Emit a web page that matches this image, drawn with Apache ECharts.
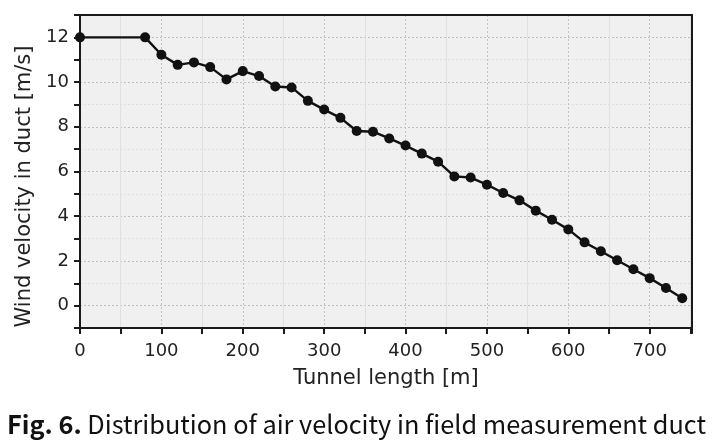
<!DOCTYPE html>
<html><head><meta charset="utf-8">
<script src="https://cdn.jsdelivr.net/npm/echarts@6/dist/echarts.min.js"></script>
<style>html,body{margin:0;padding:0;background:#fff}#c{width:713px;height:448px}</style>
</head><body><div id="c"></div>
<script>
const tunnelLength = [0,80,100,120,140,160,180,200,220,240,260,280,300,320,340,360,380,400,420,440,460,480,500,520,540,560,580,600,620,640,660,680,700,720,740];
const windVelocity = [12.0,12.0,11.22,10.77,10.88,10.67,10.12,10.49,10.27,9.8,9.76,9.16,8.77,8.4,7.81,7.78,7.48,7.16,6.8,6.44,5.78,5.73,5.41,5.04,4.71,4.25,3.84,3.41,2.83,2.43,2.03,1.63,1.23,0.79,0.33];
const yTickLabels = [0,2,4,6,8,10,12];
const xAxisName = 'Tunnel length [m]';
const yAxisName = 'Wind velocity in duct [m/s]';
const captionBold = 'Fig. 6.';
const captionText = ' Distribution of air velocity in field measurement duct';

const chart = echarts.init(document.getElementById('c'));
const fontTick = 'DejaVu Sans, sans-serif';
const frameColor = '#1a1a1a';
chart.setOption({
  animation: false,
  backgroundColor: '#fff',
  title: {
    text: '{b|' + captionBold + '}{r|' + captionText + '}',
    left: 'center', top: 407,
    textStyle: { fontWeight: 'normal', rich: {
      b: { fontFamily: 'Noto Sans CJK KR', fontWeight: 'bold', fontSize: 25.3, color: '#111' },
      r: { fontFamily: 'Noto Sans CJK KR', fontWeight: 'normal', fontSize: 25.3, color: '#111' }
    }}
  },
  grid: { left: 80, right: 21, top: 15, bottom: 120, show: true, backgroundColor: '#f0f0f0', borderWidth: 0 },
  xAxis: [{
    type: 'value', min: 0, max: 752, interval: 100,
    name: xAxisName, nameLocation: 'middle', nameGap: 40,
    nameTextStyle: { fontFamily: fontTick, fontSize: 21, color: '#222' },
    axisLine: { show: true, onZero: false, lineStyle: { color: frameColor, width: 2 } },
    axisTick: { show: true, inside: false, length: 6, lineStyle: { color: frameColor, width: 2 } },
    minorTick: { show: true, splitNumber: 2, length: 6, lineStyle: { color: frameColor, width: 2 } },
    axisLabel: { fontFamily: fontTick, fontSize: 18, color: '#222', margin: 14, showMaxLabel: false },
    splitLine: { show: true, lineStyle: { color: '#c4c4c4', type: [2, 2], width: 1 } },
    minorSplitLine: { show: true, lineStyle: { color: '#e0e0e0', width: 1 } }
  }, {
    type: 'value', position: 'top', min: 0, max: 752,
    axisLine: { show: true, onZero: false, lineStyle: { color: frameColor, width: 2 } },
    axisTick: { show: false }, axisLabel: { show: false }, splitLine: { show: false }
  }],
  yAxis: [{
    type: 'value', min: -1, max: 13, interval: 1,
    name: yAxisName, nameLocation: 'middle', nameGap: 44, nameRotate: 90,
    nameTextStyle: { fontFamily: fontTick, fontSize: 21, color: '#222', padding: [0, 30, 0, 0] },
    axisLine: { show: true, onZero: false, lineStyle: { color: frameColor, width: 2 } },
    axisTick: { show: true, inside: false, length: 6, lineStyle: { color: frameColor, width: 2 } },
    axisLabel: { fontFamily: fontTick, fontSize: 18, color: '#222', margin: 11,
      formatter: v => yTickLabels.includes(v) ? String(v) : '' },
    splitLine: { show: true, lineStyle: { color: ['#e0e0e0', '#c0c0c0'], type: [2, 2], width: 1 } }
  }, {
    type: 'value', position: 'right', min: -1, max: 13,
    axisLine: { show: true, onZero: false, lineStyle: { color: frameColor, width: 2 } },
    axisTick: { show: false }, axisLabel: { show: false }, splitLine: { show: false }
  }],
  series: [{
    type: 'line',
    xAxisIndex: 0, yAxisIndex: 0,
    data: tunnelLength.map((x, i) => [x, windVelocity[i]]),
    symbol: 'circle', symbolSize: 10,
    itemStyle: { color: '#111' },
    lineStyle: { color: '#111', width: 2.4 },
    clip: false
  }]
});
</script></body></html>
